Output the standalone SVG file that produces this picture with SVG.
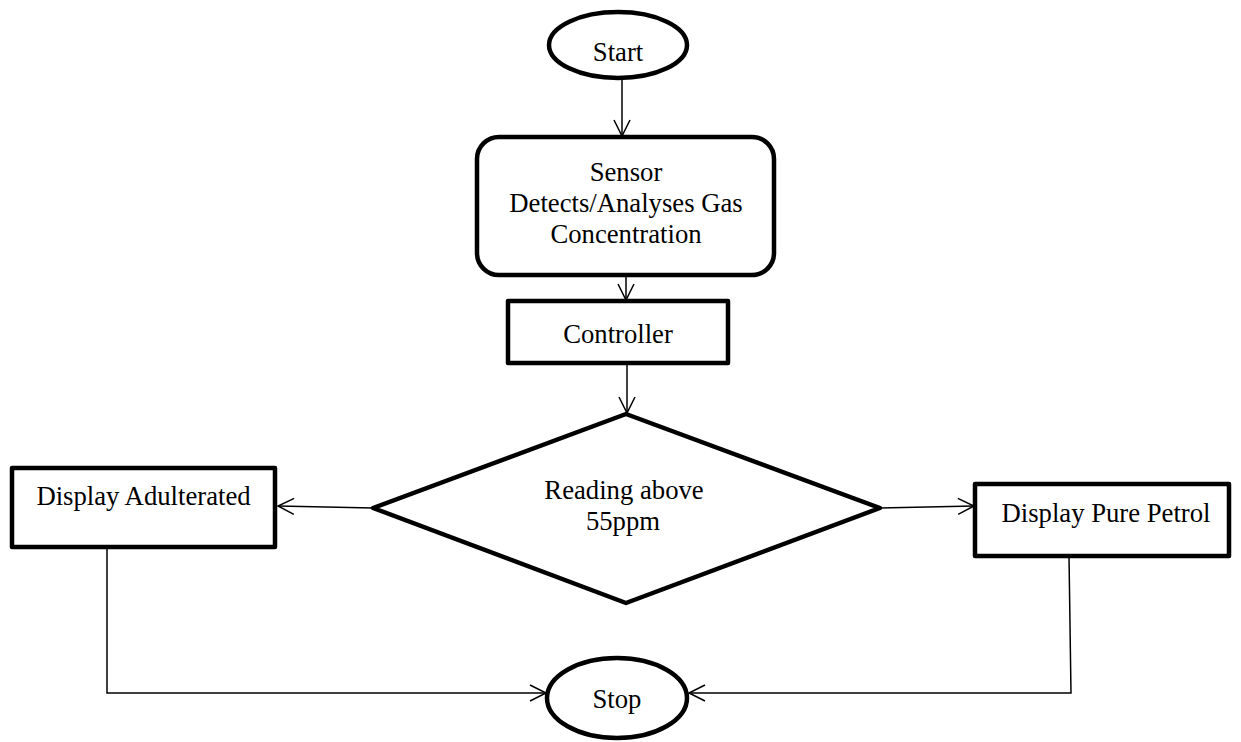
<svg xmlns="http://www.w3.org/2000/svg" width="1241" height="742" viewBox="0 0 1241 742">
<defs>
<style>
.shape{fill:#fff;stroke:#000;stroke-width:4.5;stroke-linejoin:round}
.lbl{font-family:"Liberation Serif","Times New Roman",serif;font-size:26.7px;fill:#000;text-anchor:middle}
.conn{fill:none;stroke:#000;stroke-width:1.5}
</style>
<marker id="arr" viewBox="0 0 20 20" refX="18" refY="10" markerWidth="20" markerHeight="20" markerUnits="userSpaceOnUse" orient="auto">
<path d="M2,2 L18,10 L2,18" fill="none" stroke="#000" stroke-width="1.5"/>
</marker>
</defs>
<rect width="1241" height="742" fill="#fff"/>
<g id="connectors">
<line class="conn" x1="622" y1="80" x2="622" y2="136" marker-end="url(#arr)"/>
<line class="conn" x1="626" y1="277" x2="626" y2="300" marker-end="url(#arr)"/>
<line class="conn" x1="627" y1="364" x2="627" y2="413" marker-end="url(#arr)"/>
<line class="conn" x1="373" y1="508" x2="278" y2="506" marker-end="url(#arr)"/>
<line class="conn" x1="880" y1="508" x2="974" y2="506" marker-end="url(#arr)"/>
<polyline class="conn" points="107,547 107,693 546,693" marker-end="url(#arr)"/>
<polyline class="conn" points="1069,556 1071,693 689,693" marker-end="url(#arr)"/>
</g>
<g id="start">
<ellipse class="shape" cx="618" cy="45" rx="69" ry="33"/>
<text class="lbl" x="618" y="61">Start</text>
</g>
<g id="sensor">
<rect class="shape" x="477" y="137" width="297" height="138" rx="22"/>
<text class="lbl" x="626" y="181">Sensor</text>
<text class="lbl" x="626" y="212">Detects/Analyses Gas</text>
<text class="lbl" x="626" y="243">Concentration</text>
</g>
<g id="controller">
<rect class="shape" x="508" y="301" width="220" height="62"/>
<text class="lbl" x="618" y="343">Controller</text>
</g>
<g id="decision">
<polygon class="shape" points="626,414 880,508 626,603 373,508"/>
<text class="lbl" x="624" y="499">Reading above</text>
<text class="lbl" x="623" y="530">55ppm</text>
</g>
<g id="adulterated">
<rect class="shape" x="12" y="468" width="263" height="79"/>
<text class="lbl" x="143.5" y="505">Display Adulterated</text>
</g>
<g id="pure">
<rect class="shape" x="975" y="484" width="254" height="72"/>
<text class="lbl" x="1106" y="522">Display Pure Petrol</text>
</g>
<g id="stop">
<ellipse class="shape" cx="617" cy="698" rx="70" ry="40"/>
<text class="lbl" x="617" y="708">Stop</text>
</g>
</svg>
